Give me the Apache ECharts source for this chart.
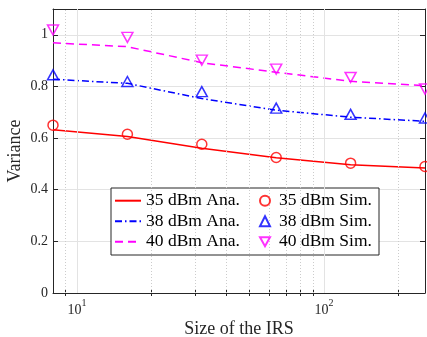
<!DOCTYPE html>
<html>
<head>
<meta charset="utf-8">
<script src="https://cdn.jsdelivr.net/npm/echarts@6/dist/echarts.min.js"></script>
<style>
html,body{margin:0;padding:0;background:#fff;}
#chart{width:427px;height:337px;}
</style>
</head>
<body>
<div id="chart"></div>
<script>
// ---- data ----
var irsSizes = [8, 16, 32, 64, 128, 256];
var ana35 = [0.632, 0.606, 0.561, 0.524, 0.497, 0.484];
var ana38 = [0.828, 0.812, 0.753, 0.708, 0.681, 0.665];
var ana40 = [0.969, 0.954, 0.892, 0.855, 0.820, 0.803];
var sim35 = [0.650, 0.615, 0.576, 0.525, 0.503, 0.490];
var sim38 = [0.845, 0.819, 0.780, 0.716, 0.692, 0.678];
var sim40 = [1.019, 0.990, 0.902, 0.867, 0.835, 0.790];
var xMajorTicks = [10, 100];
var xMinorTicks = [9, 20, 30, 40, 50, 60, 70, 80, 90, 200];
var seriesNames = ['35 dBm Ana.', '38 dBm Ana.', '40 dBm Ana.', '35 dBm Sim.', '38 dBm Sim.', '40 dBm Sim.'];

function pairs(ys) { return irsSizes.map(function (x, i) { return [x, ys[i]]; }); }

var FONT = 'Liberation Serif';
var AX = '#262626';
var RED = '#ff0000', BLUE = '#0000ff', MAG = '#ff00ff';
var invTri = 'path://M0,0 L10,0 L5,9 Z';

var chart = echarts.init(document.getElementById('chart'), null, {renderer: 'canvas'});

function xAxisBase(pos) {
  return {
    type: 'log', logBase: 10, min: 8, max: 256, position: pos,
    axisLine: {show: true, onZero: false, lineStyle: {color: AX, width: 1}},
    splitLine: {show: false},
    axisLabel: {show: false},
    axisTick: {show: false}
  };
}

var xBottom = xAxisBase('bottom');
xBottom.axisTick = {show: true, inside: true, length: 5, customValues: xMajorTicks, lineStyle: {color: AX}};
xBottom.splitLine = {show: false};
xBottom.axisLabel = {
  show: true, customValues: xMajorTicks, margin: 5,
  formatter: function (v) { return '{b|10}{s|' + Math.round(Math.log10(v)) + '}'; },
  rich: {
    b: {fontFamily: FONT, fontSize: 14, color: AX, lineHeight: 19, verticalAlign: 'bottom'},
    s: {fontFamily: FONT, fontSize: 10, color: AX, lineHeight: 10, verticalAlign: 'top'}
  }
};
xBottom.name = 'Size of the IRS';
xBottom.nameLocation = 'middle';
xBottom.nameGap = 27;
xBottom.nameMoveOverlap = false;
xBottom.nameTextStyle = {fontFamily: FONT, fontSize: 18, color: AX};

var xBottomMinor = xAxisBase('bottom');
xBottomMinor.axisLine = {show: false};
xBottomMinor.axisTick = {show: true, inside: true, length: 3, customValues: xMinorTicks, lineStyle: {color: AX}};

var xTop = xAxisBase('top');
xTop.axisTick = {show: true, inside: true, length: 5, customValues: xMajorTicks, lineStyle: {color: AX}};

var xTopMinor = xAxisBase('top');
xTopMinor.axisLine = {show: false};
xTopMinor.axisTick = {show: true, inside: true, length: 3, customValues: xMinorTicks, lineStyle: {color: AX}};

var yLeft = {
  type: 'value', min: 0, max: 1.1, interval: 0.2, position: 'left',
  axisLine: {show: true, onZero: false, lineStyle: {color: AX, width: 1}},
  axisTick: {show: true, inside: true, length: 5, lineStyle: {color: AX}},
  splitLine: {show: true, lineStyle: {color: '#e3e3e3', width: 1}},
  axisLabel: {
    show: true, margin: 5, fontFamily: FONT, fontSize: 14, color: AX,
    formatter: function (v) { return v > 1.05 ? '' : String(+v.toFixed(1)); }
  },
  name: 'Variance', nameLocation: 'middle', nameGap: 29, nameRotate: 90, nameMoveOverlap: false,
  nameTextStyle: {fontFamily: FONT, fontSize: 18, color: AX}
};
var yRight = {
  type: 'value', min: 0, max: 1.1, interval: 0.2, position: 'right',
  axisLine: {show: true, onZero: false, lineStyle: {color: AX, width: 1}},
  axisTick: {show: true, inside: true, length: 5, lineStyle: {color: AX}},
  splitLine: {show: false},
  axisLabel: {show: false}
};

function anaSeries(name, ys, color, dash) {
  return {
    name: name, type: 'line', data: pairs(ys), symbol: 'none', z: 3,
    lineStyle: {color: color, width: 1.5, type: dash},
    itemStyle: {color: color}
  };
}
function simSeries(name, ys, color, symbol, size) {
  return {
    name: name, type: 'scatter', data: pairs(ys), symbol: symbol, symbolSize: size, z: 4,
    itemStyle: {color: 'rgba(0,0,0,0)', borderColor: color, borderWidth: 1.5}
  };
}

var option = {
  animation: false,
  backgroundColor: '#fff',
  grid: {left: 53, right: 2, top: 9, bottom: 44, containLabel: false, outerBoundsMode: 'none'},
  xAxis: [xBottom, xBottomMinor, xTop, xTopMinor],
  yAxis: [yLeft, yRight],
  graphic: [{
    type: 'rect', z: 5, shape: {x: 111, y: 188, width: 268, height: 67},
    style: {fill: '#fff', stroke: AX, lineWidth: 1}
  }],
  legend: [{
    orient: 'vertical', left: 114, top: 190.7, padding: 0, itemGap: 0.5,
    itemWidth: 26, itemHeight: 12, z: 6,
    data: seriesNames.slice(0, 3).map(function (n) { return {name: n, itemStyle: {opacity: 0}}; }),
    textStyle: {fontFamily: FONT, fontSize: 17.5, color: '#000', lineHeight: 20}
  }, {
    orient: 'vertical', left: 259, top: 190.7, padding: 0, itemGap: 0.5,
    itemWidth: 10, itemHeight: 10, z: 6,
    data: seriesNames.slice(3),
    textStyle: {fontFamily: FONT, fontSize: 17.5, color: '#000', lineHeight: 20, padding: [0, 0, 0, 4]}
  }],
  series: [
    {
      name: 'minorGrid', type: 'line', data: [], z: 1, silent: true,
      markLine: {
        silent: true, symbol: 'none', label: {show: false},
        lineStyle: {color: '#cccccc', width: 1, type: [1, 2]},
        data: xMinorTicks.map(function (v) { return {xAxis: v}; })
      }
    },
    {
      name: 'majorGrid', type: 'line', data: [], z: 1, silent: true,
      markLine: {
        silent: true, symbol: 'none', label: {show: false},
        lineStyle: {color: '#e3e3e3', width: 1, type: 'solid'},
        data: xMajorTicks.map(function (v) { return {xAxis: v}; })
      }
    },
    anaSeries(seriesNames[0], ana35, RED, 'solid'),
    anaSeries(seriesNames[1], ana38, BLUE, [7, 3, 1.5, 3]),
    anaSeries(seriesNames[2], ana40, MAG, [8, 5]),
    simSeries(seriesNames[3], sim35, RED, 'circle', 10),
    simSeries(seriesNames[4], sim38, BLUE, 'triangle', [11, 10]),
    simSeries(seriesNames[5], sim40, MAG, invTri, [11, 10])
  ]
};
chart.setOption(option);
</script>
</body>
</html>
